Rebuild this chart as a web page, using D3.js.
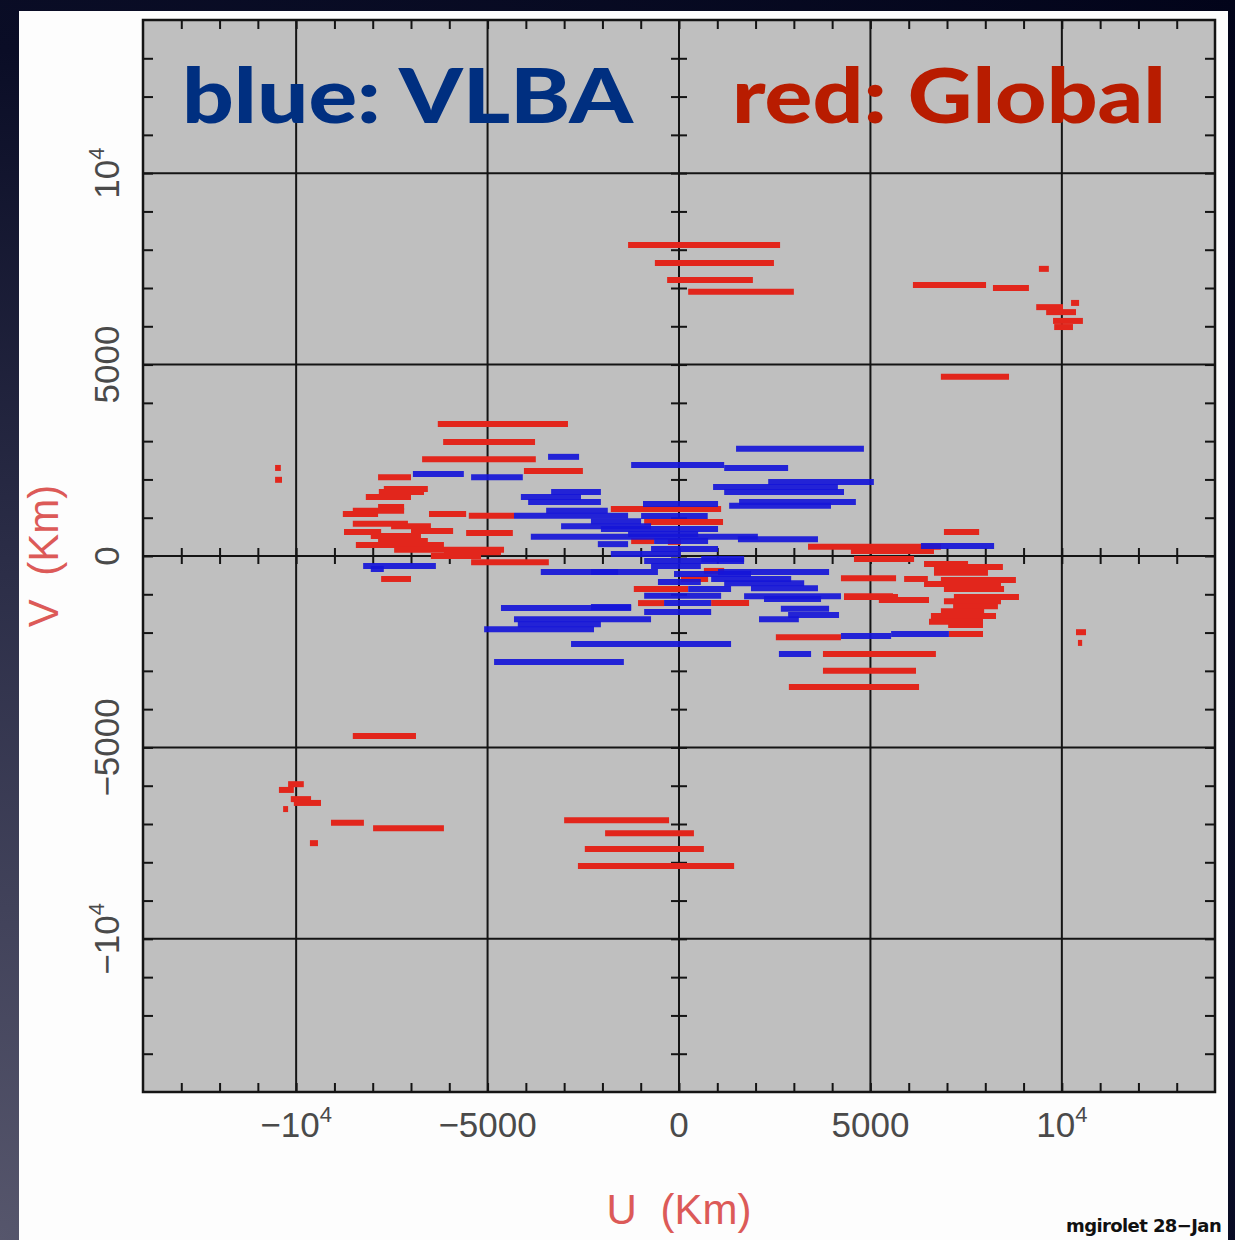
<!DOCTYPE html>
<html lang="en">

<head>
  <meta charset="UTF-8">
  <title>UV coverage: VLBA and Global</title>
  <script src="https://d3js.org/d3.v7.min.js"></script>
  <style>
    html,
    body {
      margin: 0;
      padding: 0;
    }

    body {
      width: 1235px;
      height: 1240px;
      overflow: hidden;
      background: radial-gradient(circle at 0% 100%, #56566c 0%, #2c2e48 38%, #0a0d26 68%, #02041a 100%);
    }

    svg {
      display: block;
    }

    .tick-label {
      font-family: "Liberation Sans", Arial, sans-serif;
      font-size: 35px;
      fill: #4a4a4a;
    }

    .axis-title {
      font-family: "Liberation Sans", Arial, sans-serif;
      font-size: 42px;
      fill: #dc5a58;
      word-spacing: 12px;
    }

    .legend {
      font-family: Lato, "Open Sans", sans-serif;
      font-weight: 900;
      font-size: 76px;
    }
  </style>
</head>

<body>
  <div id="chart"></div>

  <script>
    const uExtent = [-14000, 14000]
    const vExtent = [-14000, 14000]
    const majorTicks = [-10000, -5000, 0, 5000, 10000]
    const tickLabels = ['−10^4', '−5000', '0', '5000', '10^4']
    const minorTicks = d3.range(-13000, 14000, 1000)

    // uv tracks, [u start, u end, v] in km
    const globalTracks = [
      [-1330, 2640, 8120], [-630, 2480, 7650], [-310, 1930, 7210], [240, 3000, 6900],
      [6110, 8020, 7080], [8200, 9140, 7000], [9400, 9660, 7500], [9330, 10030, 6500],
      [9590, 10370, 6370], [9770, 10550, 6140], [9800, 10290, 5980], [10240, 10450, 6610],
      [6840, 8620, 4680],
      [-10550, -10400, 2300], [-10550, -10370, 1990],
      [-8520, -6870, -4700], [-10210, -9800, -5960], [-10450, -10060, -6110], [-10140, -9610, -6350],
      [-10060, -9350, -6450], [-10340, -10210, -6610], [-9640, -9430, -7500], [-9090, -8230, -6970],
      [-7990, -6140, -7110],
      [-3000, -260, -6900], [-1930, 390, -7240], [-2460, 650, -7650], [-2640, 1440, -8100],
      [-6300, -2900, 3450], [-6160, -3760, 2980], [-6710, -3740, 2530], [-4050, -2510, 2220],
      [-7860, -7000, 2060], [-7710, -6560, 1750], [-7840, -6660, 1670], [-8180, -7000, 1540],
      [-7860, -7180, 1280], [-8520, -7180, 1180], [-8780, -7860, 1100], [-6530, -5560, 1100],
      [-5490, -4310, 1050], [-8520, -7080, 840], [-7520, -6480, 780], [-7000, -5900, 650],
      [-8750, -7780, 630], [-5560, -4340, 600], [-8050, -6740, 520], [-7860, -6560, 390],
      [-8440, -6140, 290], [-7440, -4570, 160], [-6140, -4650, 100], [-6480, -5170, 0],
      [-5430, -3400, -160], [-7780, -7000, -600],
      [-1780, 1100, 1230], [-910, 1150, 890], [-1250, -650, 390], [-290, 50, 370],
      [650, 1180, -390], [50, 760, -600], [-1180, 240, -860], [-1070, -390, -1230],
      [840, 1830, -1230], [4310, 5720, -1070],
      [6920, 7840, 630], [3370, 6840, 240], [4490, 6660, 130], [4570, 6140, -80],
      [6400, 7550, -210], [6660, 8460, -290], [6660, 8070, -440], [4230, 5670, -580],
      [5880, 6500, -600], [6840, 8800, -630], [6400, 8410, -730], [6920, 8490, -860],
      [4310, 5590, -1050], [7180, 8880, -1070], [5220, 6530, -1150], [6920, 8410, -1180],
      [7160, 8330, -1310], [6840, 7970, -1440], [6580, 8280, -1570], [6530, 7940, -1720],
      [7030, 7940, -1800], [7050, 7940, -2040], [2530, 4230, -2120], [3760, 6710, -2560],
      [3760, 6190, -3000], [2870, 6270, -3420],
      [10370, 10630, -1990], [10420, 10530, -2270]
    ]

    const vlbaTracks = [
      [-6950, -5620, 2140], [-5430, -4080, 2060], [-3420, -2610, 2590], [-4130, -2560, 1540],
      [-3940, -2040, 1410], [-3470, -1860, 1180], [-4310, -1330, 1050], [-3080, -730, 780],
      [-3870, 2060, 500], [-3610, -1590, -420], [-8250, -6350, -260], [-8050, -7710, -340],
      [-4650, -1250, -1360], [-4310, -730, -1650], [-5090, -2220, -1910], [-4210, -2040, -1780],
      [-4830, -1440, -2770], [-2820, 1360, -2300],
      [1490, 4830, 2800], [-1250, 1180, 2380], [1180, 2850, 2300], [2330, 5090, 1930],
      [890, 4150, 1800], [1180, 4310, 1670], [1570, 4620, 1410], [1310, 3970, 1310],
      [-3340, -2040, 1670], [1540, 3630, 440], [580, 1700, -80],
      [1020, 3920, -420], [840, 2930, -600], [1180, 3270, -710],
      [1880, 3630, -840], [1700, 4230, -1050], [2220, 3710, -1120], [2660, 3920, -1380],
      [2850, 4180, -1540], [2090, 3130, -1650], [2610, 3450, -2560],
      [-940, 1020, 1360], [-990, 750, 1045], [-2300, -990, 910], [-2040, 1020, 705],
      [-1330, 500, 575], [-650, 760, 390], [-2120, -1330, 310], [-730, 1020, 180],
      [-1780, 50, 50], [-910, 1700, -130], [-730, 570, -260], [-2300, -550, -420],
      [-130, 1880, -470], [-550, 570, -680], [240, 1360, -860], [-910, 1100, -1040],
      [-390, 840, -1230], [-910, 840, -1460], [-2300, -1250, -1330],
      [6320, 8230, 260], [5540, 7050, -2040], [4230, 5540, -2090]
    ]

    const width = 1235
    const height = 1240
    const plot = { left: 143, top: 20, right: 1215, bottom: 1092 }

    const svg = d3.select('#chart')
      .append('svg')
      .attr('width', width)
      .attr('height', height)

    const defs = svg.append('defs')

    defs.append('clipPath')
      .attr('id', 'panel-clip')
      .append('rect')
      .attr('x', 19).attr('y', 11)
      .attr('width', 1209).attr('height', 1240)

    defs.append('clipPath')
      .attr('id', 'plot-clip')
      .append('rect')
      .attr('x', plot.left).attr('y', plot.top)
      .attr('width', plot.right - plot.left).attr('height', plot.bottom - plot.top)

    // white slide panel
    svg.append('rect')
      .attr('x', 19).attr('y', 11)
      .attr('width', 1209).attr('height', 1240)
      .attr('fill', '#fdfdfd')

    const x = d3.scaleLinear().domain(uExtent).range([plot.left, plot.right])
    const y = d3.scaleLinear().domain(vExtent).range([plot.bottom, plot.top])

    svg.append('rect')
      .attr('x', plot.left).attr('y', plot.top)
      .attr('width', plot.right - plot.left).attr('height', plot.bottom - plot.top)
      .attr('fill', '#bfbfbf')

    // major grid
    const grid = svg.append('g')
      .attr('stroke', '#141414')
      .attr('stroke-width', 2)

    grid.selectAll('.vgrid')
      .data(majorTicks)
      .join('line')
      .attr('class', 'vgrid')
      .attr('x1', d => x(d)).attr('x2', d => x(d))
      .attr('y1', plot.top).attr('y2', plot.bottom)

    grid.selectAll('.hgrid')
      .data(majorTicks)
      .join('line')
      .attr('class', 'hgrid')
      .attr('y1', d => y(d)).attr('y2', d => y(d))
      .attr('x1', plot.left).attr('x2', plot.right)

    // minor ticks on the frame, pointing inward
    const tickStyle = g => {
      g.select('.domain').remove()
      g.selectAll('.tick line').attr('stroke', '#141414').attr('stroke-width', 2)
    }

    svg.append('g')
      .attr('transform', `translate(0,${plot.bottom})`)
      .call(d3.axisBottom(x).tickValues(minorTicks).tickSize(-9).tickFormat(''))
      .call(tickStyle)
    svg.append('g')
      .attr('transform', `translate(0,${plot.top})`)
      .call(d3.axisTop(x).tickValues(minorTicks).tickSize(-9).tickFormat(''))
      .call(tickStyle)
    svg.append('g')
      .attr('transform', `translate(${plot.left},0)`)
      .call(d3.axisLeft(y).tickValues(minorTicks).tickSize(-10).tickFormat(''))
      .call(tickStyle)
    svg.append('g')
      .attr('transform', `translate(${plot.right},0)`)
      .call(d3.axisRight(y).tickValues(minorTicks).tickSize(-10).tickFormat(''))
      .call(tickStyle)

    // ticks crossing the u = 0 and v = 0 axes
    svg.append('g')
      .attr('transform', `translate(0,${y(0) - 8})`)
      .call(d3.axisBottom(x).tickValues(minorTicks).tickSize(16).tickFormat(''))
      .call(tickStyle)
    svg.append('g')
      .attr('transform', `translate(${x(0) - 8},0)`)
      .call(d3.axisRight(y).tickValues(minorTicks).tickSize(16).tickFormat(''))
      .call(tickStyle)

    // tracks
    const tracks = svg.append('g').attr('clip-path', 'url(#plot-clip)')

    tracks.selectAll('.global')
      .data(globalTracks)
      .join('line')
      .attr('class', 'global')
      .attr('x1', d => x(d[0])).attr('x2', d => x(d[1]))
      .attr('y1', d => y(d[2])).attr('y2', d => y(d[2]))
      .attr('stroke', '#e2261c')
      .attr('stroke-width', 6)

    tracks.selectAll('.vlba')
      .data(vlbaTracks)
      .join('line')
      .attr('class', 'vlba')
      .attr('x1', d => x(d[0])).attr('x2', d => x(d[1]))
      .attr('y1', d => y(d[2])).attr('y2', d => y(d[2]))
      .attr('stroke', '#1616d8')
      .attr('stroke-opacity', 0.92)
      .attr('stroke-width', 6)

    // frame
    svg.append('rect')
      .attr('x', plot.left).attr('y', plot.top)
      .attr('width', plot.right - plot.left).attr('height', plot.bottom - plot.top)
      .attr('fill', 'none')
      .attr('stroke', '#141414')
      .attr('stroke-width', 2.5)

    // tick labels, "^" marks a superscript
    const writeLabel = (text, label) => {
      const [base, sup] = label.split('^')
      text.append('tspan').text(base)
      if (sup) text.append('tspan').attr('font-size', 22).attr('dy', -15).text(sup)
    }

    majorTicks.forEach((t, i) => {
      const tx = svg.append('text')
        .attr('class', 'tick-label')
        .attr('x', x(t))
        .attr('y', 1137)
        .attr('text-anchor', 'middle')
      writeLabel(tx, tickLabels[i])

      const ty = svg.append('text')
        .attr('class', 'tick-label')
        .attr('transform', `translate(119,${y(t)}) rotate(-90)`)
        .attr('text-anchor', 'middle')
      writeLabel(ty, tickLabels[i])
    })

    svg.append('text')
      .attr('class', 'axis-title')
      .attr('x', x(0))
      .attr('y', 1224)
      .attr('text-anchor', 'middle')
      .text('U (Km)')

    svg.append('text')
      .attr('class', 'axis-title')
      .attr('transform', `translate(58,${y(0)}) rotate(-90)`)
      .attr('text-anchor', 'middle')
      .text('V (Km)')

    svg.append('text')
      .attr('x', 1066)
      .attr('y', 1232)
      .attr('clip-path', 'url(#panel-clip)')
      .attr('font-family', '"DejaVu Sans", sans-serif')
      .attr('font-weight', 'bold')
      .attr('font-size', 18)
      .attr('letter-spacing', -0.6)
      .attr('fill', '#111')
      .text('mgirolet 28−Jan')

    // legend written over the plot
    svg.append('text')
      .attr('class', 'legend')
      .attr('x', 182)
      .attr('y', 123)
      .attr('fill', '#002f80')
      .attr('textLength', 451)
      .attr('lengthAdjust', 'spacingAndGlyphs')
      .text('blue: VLBA')

    svg.append('text')
      .attr('class', 'legend')
      .attr('x', 732)
      .attr('y', 123)
      .attr('fill', '#b81c00')
      .attr('textLength', 434)
      .attr('lengthAdjust', 'spacingAndGlyphs')
      .text('red: Global')
  </script>
</body>

</html>
